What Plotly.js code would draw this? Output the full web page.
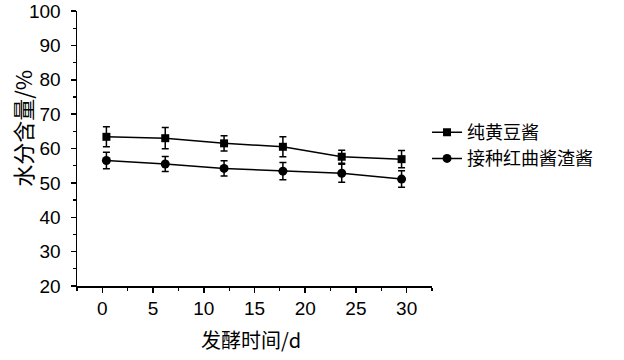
<!DOCTYPE html>
<html>
<head>
<meta charset="utf-8">
<script src="https://cdn.plot.ly/plotly-3.0.1.min.js"></script>
<style>html,body{margin:0;padding:0;background:#fff;}#chart{width:624px;height:360px;}</style>
</head>
<body>
<div id="chart"></div>
<script>
var days = [0.4, 6.2, 12.0, 17.8, 23.6, 29.5];
var pureSoy = [63.4, 63.0, 61.5, 60.5, 57.6, 56.9];
var pureSoyErr = [2.9, 3.1, 2.2, 2.9, 1.9, 2.5];
var inoculated = [56.5, 55.5, 54.2, 53.4, 52.8, 51.1];
var inoculatedErr = [2.4, 2.2, 2.2, 2.5, 2.6, 2.4];
var names = ['纯黄豆酱', '接种红曲酱渣酱'];
var xTitle = '发酵时间/d';
var yTitle = '水分含量/%';

var numFam = 'Liberation Sans, Arial, Noto Sans CJK SC, sans-serif';
var cjkFam = 'Noto Sans CJK SC, Liberation Sans, sans-serif';

var traces = [
  {x: days, y: pureSoy, name: names[0], type: 'scatter', mode: 'lines+markers', legend: 'legend',
   line: {color: '#000', width: 1.5},
   marker: {symbol: 'square', size: 8, color: '#000'},
   error_y: {type: 'data', array: pureSoyErr, visible: true, color: '#000', thickness: 1.5, width: 3.5}},
  {x: days, y: inoculated, name: names[1], type: 'scatter', mode: 'lines+markers', legend: 'legend2',
   line: {color: '#000', width: 1.5},
   marker: {symbol: 'circle', size: 9, color: '#000'},
   error_y: {type: 'data', array: inoculatedErr, visible: true, color: '#000', thickness: 1.5, width: 3.5}}
];

var legStyle = function (y) {
  return {x: 0.986, xanchor: 'left', y: y, yanchor: 'middle', bgcolor: 'rgba(0,0,0,0)',
          font: {family: cjkFam, size: 18, color: '#000'}, itemwidth: 30};
};

var layout = {
  width: 624, height: 360,
  margin: {l: 77, r: 192, t: 11, b: 74},
  paper_bgcolor: '#fff', plot_bgcolor: '#fff',
  font: {family: numFam, color: '#000', size: 19},
  showlegend: true,
  legend: legStyle(0.558),
  legend2: legStyle(0.463),
  xaxis: {
    range: [-2.5, 32.5], tick0: 0, dtick: 5, showgrid: false, zeroline: false,
    showline: true, linecolor: '#000', linewidth: 1.5,
    ticks: 'outside', ticklen: 5, tickwidth: 1.5, tickcolor: '#000',
    minor: {dtick: 2.5, ticks: 'outside', ticklen: 3, tickwidth: 1.2, tickcolor: '#000', showgrid: false},
    tickfont: {family: numFam, size: 19},
    ticklabeloverflow: 'allow',
    automargin: false
  },
  yaxis: {
    range: [20, 100], tick0: 20, dtick: 10, showgrid: false, zeroline: false,
    showline: true, linecolor: '#000', linewidth: 1.5,
    ticks: 'outside', ticklen: 5, tickwidth: 1.5, tickcolor: '#000',
    minor: {dtick: 5, ticks: 'outside', ticklen: 3, tickwidth: 1.2, tickcolor: '#000', showgrid: false},
    tickfont: {family: numFam, size: 19},
    ticklabeloverflow: 'allow',
    ticklabelstandoff: 6,
    automargin: false
  },
  annotations: [
    {text: xTitle, xref: 'paper', yref: 'paper', x: 0.49, y: -0.196, xanchor: 'center', yanchor: 'middle',
     showarrow: false, font: {family: cjkFam, size: 20, color: '#000'}},
    {text: yTitle, xref: 'paper', yref: 'paper', x: -0.155, y: 0.575, xanchor: 'center', yanchor: 'middle',
     textangle: -90, showarrow: false, font: {family: cjkFam, size: 22, color: '#000'}}
  ]
};

Plotly.newPlot('chart', traces, layout, {displayModeBar: false, staticPlot: true});
</script>
</body>
</html>
